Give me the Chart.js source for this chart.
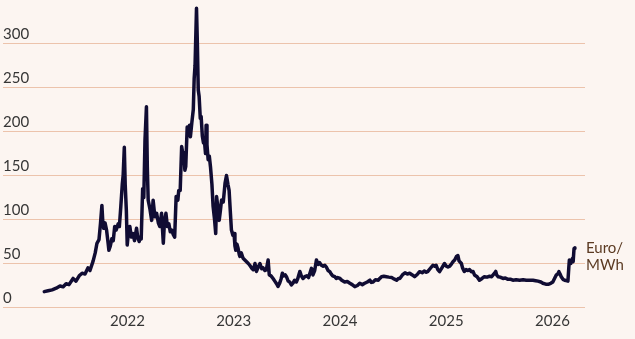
<!DOCTYPE html>
<html><head><meta charset="utf-8">
<script src="https://cdn.jsdelivr.net/npm/chart.js@4.4.1/dist/chart.umd.min.js"></script>
<style>html,body{margin:0;padding:0;background:#fcf5f1;}canvas{display:block;}</style>
</head><body>
<canvas id="c" width="635" height="339"></canvas>
<script>
const dates = [
'2021-03-21','2021-04-03','2021-04-17','2021-05-01','2021-05-14','2021-05-25','2021-06-04','2021-06-14','2021-06-28','2021-07-08',
'2021-07-19','2021-07-29','2021-08-08','2021-08-18','2021-08-25','2021-09-05','2021-09-12','2021-09-18','2021-09-25','2021-09-30',
'2021-10-05','2021-10-08','2021-10-11','2021-10-16','2021-10-21','2021-10-26','2021-10-29','2021-11-03','2021-11-08','2021-11-13',
'2021-11-18','2021-11-23','2021-11-30','2021-12-04','2021-12-09','2021-12-14','2021-12-17','2021-12-21','2021-12-24','2021-12-28',
'2021-12-31','2022-01-04','2022-01-09','2022-01-14','2022-01-20','2022-01-25','2022-02-01','2022-02-05','2022-02-10','2022-02-14',
'2022-02-17','2022-02-22','2022-02-26','2022-03-02','2022-03-07','2022-03-10','2022-03-13','2022-03-19','2022-03-25','2022-03-30',
'2022-04-05','2022-04-11','2022-04-17','2022-04-22','2022-04-28','2022-05-04','2022-05-08','2022-05-13','2022-05-18','2022-05-23',
'2022-05-28','2022-06-02','2022-06-07','2022-06-12','2022-06-17','2022-06-23','2022-06-26','2022-07-01','2022-07-06','2022-07-10',
'2022-07-14','2022-07-17','2022-07-20','2022-07-25','2022-07-29','2022-08-02','2022-08-05','2022-08-10','2022-08-15','2022-08-18',
'2022-08-21','2022-08-26','2022-08-29','2022-09-01','2022-09-04','2022-09-08','2022-09-11','2022-09-15','2022-09-19','2022-09-22',
'2022-09-26','2022-09-28','2022-10-01','2022-10-05','2022-10-09','2022-10-13','2022-10-18','2022-10-22','2022-10-27','2022-10-31',
'2022-11-03','2022-11-07','2022-11-12','2022-11-16','2022-11-20','2022-11-26','2022-12-02','2022-12-07','2022-12-12','2022-12-16',
'2022-12-20','2022-12-24','2022-12-29','2023-01-02','2023-01-05','2023-01-08','2023-01-12','2023-01-16','2023-01-20','2023-01-22',
'2023-01-27','2023-02-02','2023-02-08','2023-02-14','2023-02-20','2023-02-25','2023-03-03','2023-03-09','2023-03-15','2023-03-20',
'2023-03-26','2023-04-01','2023-04-07','2023-04-12','2023-04-18','2023-04-23','2023-04-29','2023-05-03','2023-05-09','2023-05-16',
'2023-05-22','2023-05-28','2023-06-02','2023-06-08','2023-06-13','2023-06-17','2023-06-22','2023-06-27','2023-07-01','2023-07-07',
'2023-07-12','2023-07-18','2023-07-24','2023-07-29','2023-08-04','2023-08-09','2023-08-16','2023-08-21','2023-08-27','2023-09-02',
'2023-09-09','2023-09-15','2023-09-25','2023-09-30','2023-10-06','2023-10-12','2023-10-18','2023-10-23','2023-10-29','2023-11-04',
'2023-11-10','2023-11-15','2023-11-21','2023-11-27','2023-12-02','2023-12-07','2023-12-14','2023-12-19','2023-12-24','2024-01-01',
'2024-01-07','2024-01-17','2024-01-26','2024-02-04','2024-02-12','2024-02-21','2024-03-01','2024-03-09','2024-03-18','2024-03-26',
'2024-04-04','2024-04-13','2024-04-18','2024-04-24','2024-05-02','2024-05-12','2024-05-17','2024-05-23','2024-05-31','2024-06-09',
'2024-06-17','2024-06-27','2024-07-05','2024-07-14','2024-07-20','2024-07-25','2024-08-03','2024-08-12','2024-08-20','2024-08-28',
'2024-09-06','2024-09-14','2024-09-23','2024-10-01','2024-10-10','2024-10-18','2024-10-23','2024-10-29','2024-11-06','2024-11-16',
'2024-11-22','2024-11-27','2024-12-03','2024-12-09','2024-12-17','2024-12-26','2025-01-01','2025-01-07','2025-01-13','2025-01-18',
'2025-01-24','2025-01-30','2025-02-05','2025-02-10','2025-02-14','2025-02-22','2025-02-26','2025-03-04','2025-03-10','2025-03-16',
'2025-03-22','2025-03-28','2025-04-03','2025-04-08','2025-04-17','2025-04-25','2025-05-04','2025-05-12','2025-05-21','2025-05-30',
'2025-06-06','2025-06-11','2025-06-16','2025-06-20','2025-06-23','2025-06-28','2025-07-05','2025-07-15','2025-07-23','2025-08-01',
'2025-08-11','2025-08-18','2025-08-29','2025-09-10','2025-09-22','2025-10-03','2025-10-15','2025-10-26','2025-11-04','2025-11-12',
'2025-11-22','2025-11-29','2025-12-09','2025-12-17','2025-12-26','2026-01-02','2026-01-08','2026-01-14','2026-01-19','2026-01-23',
'2026-01-27','2026-01-31','2026-02-06','2026-02-12','2026-02-17','2026-02-23','2026-02-26','2026-02-28','2026-03-03','2026-03-05',
'2026-03-08','2026-03-11','2026-03-13','2026-03-16','2026-03-19'
];
const prices = [
18,19,20,22,24.5,23.5,27,26,33,30,
36,39,38,45,42,53,62,73,77,95,
116,98,90,96,88,74,65,70,78,76,
92,88,95,92,115,140,150,182,140,110,
71,85,92,80,84,76,90,80,75,80,
78,135,125,190,228,160,122,112,99,122,
103,107,96,92,107,73,98,107,92,95,
86,88,83,80,126,122,133,133,183,175,
176,156,160,205,196,207,194,210,225,260,
275,340,300,247,240,215,217,195,187,190,
175,207,185,168,172,160,140,115,100,84,
126,115,99,110,122,120,141,150,140,133,
110,88,82,84,70,65,72,67,60,58,
62,56,54,52,50,48,45,43,50,41,
46,50,44,45,42,43,54,37,36,33,
30,27,24,28,33,39,36,37,35,30,
29,25.6,28,31,29,33,41,36,33,35,
36,34,44.5,37,42,54,49,51,48,47,
48,46,42,40.7,38,36,35,33,34,33,
31,29,29.5,27.5,26,23.7,25,27.5,26,27.5,
29,31,28.5,29,31.5,31,33,35,35.5,35,
34.5,34,32.5,31,33,33,37,39.5,38,39,
37,35,37.5,40.7,39.5,41.5,40,40.7,44,48,
47,48,43,40.7,45,50,47,46,47,49,
52,54,58,59,53,50,45,41,43,42,
43,40.7,41,37,35,31,33,35,34.5,35.5,
35,37,39,41,37,35,34.5,33,33.5,32,
32,31,31.5,31,31.5,31,31,31,30.5,30,
29,27.5,26.5,26.3,27.5,29,33,37,38,40.7,
38,35,32,31,30.5,30,45,54,50,52,
54,56,52,67,68
];
const yearTicks = [2022, 2023, 2024, 2025, 2026];
const valueTicks = [0, 50, 100, 150, 200, 250, 300];
const unitLines = ['Euro/', 'MWh'];

function toYear(s) {
  const d = Date.parse(s + 'T00:00:00Z');
  const y = Number(s.slice(0, 4));
  const a = Date.UTC(y, 0, 1), b = Date.UTC(y + 1, 0, 1);
  return y + (d - a) / (b - a);
}
const points = dates.map((d, i) => ({ x: toYear(d), y: prices[i] }));

const FONT = 'Lato, "Open Sans", sans-serif';
const TEXT = '#363636';

const bgPlugin = {
  id: 'bg',
  beforeDraw(chart) {
    const { ctx, width, height } = chart;
    ctx.save(); ctx.fillStyle = '#fcf5f1'; ctx.fillRect(0, 0, width, height); ctx.restore();
  }
};
const unitPlugin = {
  id: 'unit',
  afterDraw(chart) {
    const { ctx, chartArea, scales } = chart;
    const y0 = scales.y.getPixelForValue(62);
    ctx.save();
    ctx.font = '15px ' + FONT;
    ctx.fillStyle = '#5b3a22';
    ctx.textAlign = 'left';
    ctx.textBaseline = 'alphabetic';
    unitLines.forEach((t, i) => ctx.fillText(t, chartArea.right + 1, y0 + i * 17.5));
    ctx.restore();
  }
};

new Chart(document.getElementById('c'), {
  type: 'line',
  data: {
    datasets: [{
      data: points,
      borderColor: '#100c33',
      borderWidth: 3.5,
      borderJoinStyle: 'round',
      borderCapStyle: 'round',
      pointRadius: 0,
      tension: 0,
      fill: false,
      clip: false
    }]
  },
  options: {
    responsive: false,
    devicePixelRatio: 1,
    animation: false,
    events: [],
    layout: { padding: { left: 3, right: 50, top: 0, bottom: 3.5 } },
    plugins: { legend: { display: false }, tooltip: { enabled: false } },
    scales: {
      x: {
        type: 'linear',
        min: 2020.828,
        max: 2026.306,
        afterBuildTicks: (axis) => { axis.ticks = yearTicks.map(v => ({ value: v })); },
        grid: { display: false, drawTicks: false },
        border: { display: false },
        ticks: {
          padding: 5,
          maxRotation: 0,
          autoSkip: false,
          color: TEXT,
          font: { family: FONT, size: 15 },
          callback: (v) => String(v)
        }
      },
      y: {
        type: 'linear',
        min: 0,
        max: 349.4,
        afterBuildTicks: (axis) => { axis.ticks = valueTicks.map(v => ({ value: v })); },
        afterFit: (axis) => { axis.paddingTop = 0; axis.paddingBottom = 0; },
        grid: { color: '#ecc3ac', lineWidth: 1, drawTicks: false },
        border: { display: false },
        ticks: {
          mirror: true,
          padding: 0,
          labelOffset: -9,
          color: TEXT,
          font: { family: FONT, size: 15 },
          callback: (v) => String(v)
        }
      }
    }
  },
  plugins: [bgPlugin, unitPlugin]
});
</script>
</body></html>
